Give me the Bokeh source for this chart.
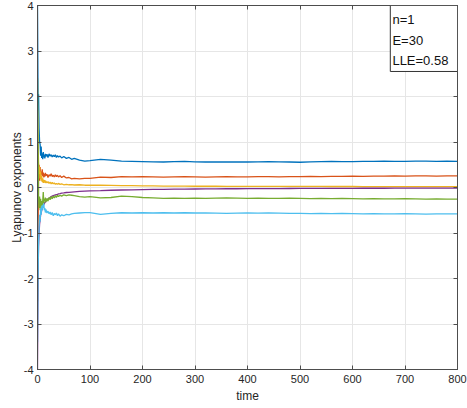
from bokeh.plotting import figure
from bokeh.models import LinearAxis, BoxAnnotation, Label, Range1d, FixedTicker
from bokeh.embed import file_html
from bokeh.resources import INLINE

# time samples
time = [0, 1, 2, 3, 4, 5, 6, 7, 8, 9, 10, 11, 12, 13, 14, 15, 16,
        18, 20, 22, 24, 26, 28, 30, 32, 34, 36, 38, 40,
        43, 46, 50, 55, 60, 65, 70, 80, 90, 100,
        120, 140, 160, 180, 200, 220, 240, 260, 280, 300, 320, 340, 360, 380, 400,
        420, 440, 460, 480, 500, 520, 540, 560, 580, 600, 620, 640, 660, 680, 700,
        720, 740, 760, 780, 800]

lyap_blue = [4.0, 2.0, 2.05, 1.3, 1.0, 0.95, 0.7, 0.9, 0.65, 0.75, 0.62, 0.78, 0.66, 0.72, 0.64, 0.74, 0.68,
             0.73, 0.66, 0.74, 0.69, 0.72, 0.67, 0.71, 0.68, 0.72, 0.66, 0.70, 0.67,
             0.69, 0.65, 0.68, 0.64, 0.66, 0.62, 0.64, 0.60, 0.58, 0.59,
             0.62, 0.60, 0.58, 0.575, 0.57, 0.565, 0.56, 0.57, 0.575, 0.565, 0.56, 0.565, 0.56, 0.565, 0.56,
             0.565, 0.57, 0.565, 0.56, 0.555, 0.565, 0.57, 0.575, 0.57, 0.57, 0.575, 0.575, 0.58, 0.575, 0.575,
             0.58, 0.58, 0.575, 0.58, 0.575]

lyap_orange = [-2.5, -1.0, 0.2, 0.5, 0.15, 0.45, 0.2, 0.35, 0.28, 0.4, 0.25, 0.33, 0.22, 0.3, 0.24, 0.32, 0.26,
               0.29, 0.22, 0.28, 0.25, 0.3, 0.24, 0.27, 0.23, 0.28, 0.24, 0.27, 0.23,
               0.26, 0.22, 0.25, 0.21, 0.22, 0.19, 0.2, 0.19, 0.2, 0.2,
               0.23, 0.22, 0.24, 0.235, 0.24, 0.235, 0.23, 0.235, 0.24, 0.235, 0.23, 0.235, 0.24, 0.235, 0.235,
               0.24, 0.24, 0.235, 0.24, 0.24, 0.245, 0.24, 0.245, 0.245, 0.25, 0.245, 0.25, 0.25, 0.255, 0.25,
               0.255, 0.255, 0.25, 0.255, 0.255]

lyap_yellow = [1.7, 1.0, 0.55, 0.3, 0.45, 0.2, 0.35, 0.15, 0.25, 0.12, 0.2, 0.1, 0.17, 0.11, 0.16, 0.1, 0.14,
               0.1, 0.13, 0.09, 0.12, 0.08, 0.11, 0.08, 0.1, 0.07, 0.09, 0.07, 0.09,
               0.07, 0.08, 0.06, 0.07, 0.06, 0.065, 0.055, 0.06, 0.05, 0.05,
               0.05, 0.045, 0.04, 0.04, 0.035, 0.035, 0.03, 0.03, 0.03, 0.028, 0.028, 0.027, 0.026, 0.026, 0.025,
               0.025, 0.025, 0.024, 0.024, 0.023, 0.023, 0.023, 0.022, 0.022, 0.022, 0.021, 0.021, 0.021, 0.02, 0.02,
               0.02, 0.02, 0.019, 0.019, 0.019]

lyap_purple = [-4.0, -2.0, -1.3, -1.0, -0.8, -0.72, -0.6, -0.57, -0.5, -0.48, -0.42, -0.41, -0.37, -0.36, -0.33, -0.32, -0.3,
               -0.27, -0.25, -0.24, -0.22, -0.2, -0.19, -0.18, -0.17, -0.16, -0.155, -0.15, -0.14,
               -0.135, -0.125, -0.12, -0.11, -0.105, -0.1, -0.095, -0.085, -0.08, -0.075,
               -0.07, -0.06, -0.055, -0.05, -0.045, -0.042, -0.04, -0.037, -0.035, -0.033, -0.031, -0.03, -0.028, -0.027, -0.026,
               -0.025, -0.024, -0.023, -0.022, -0.021, -0.02, -0.02, -0.019, -0.018, -0.018, -0.017, -0.016, -0.016, -0.015, -0.015,
               -0.014, -0.014, -0.013, -0.013, -0.012]

lyap_green = [2.4, 1.0, -0.2, -0.45, -0.2, -0.5, -0.25, -0.4, -0.3, -0.45, -0.28, -0.1, -0.35, -0.25, -0.3, -0.22, -0.32,
              -0.24, -0.3, -0.22, -0.27, -0.2, -0.25, -0.19, -0.23, -0.18, -0.22, -0.17, -0.2,
              -0.17, -0.19, -0.16, -0.18, -0.16, -0.17, -0.18, -0.2, -0.21, -0.2,
              -0.23, -0.22, -0.19, -0.2, -0.22, -0.23, -0.24, -0.235, -0.24, -0.235, -0.24, -0.235, -0.23, -0.235, -0.24,
              -0.235, -0.24, -0.24, -0.235, -0.24, -0.245, -0.24, -0.245, -0.24, -0.245, -0.25, -0.245, -0.25, -0.25, -0.245,
              -0.25, -0.255, -0.25, -0.255, -0.255]

lyap_cyan = [-3.4, -2.0, -1.2, -0.9, -0.6, -0.75, -0.45, -0.6, -0.4, -0.5, -0.38, -0.45, -0.35, -0.5, -0.45, -0.55, -0.48,
             -0.56, -0.52, -0.58, -0.54, -0.6, -0.55, -0.62, -0.57, -0.6, -0.56, -0.62, -0.58,
             -0.63, -0.6, -0.62, -0.59, -0.6, -0.58, -0.57, -0.56, -0.55, -0.55,
             -0.59, -0.57, -0.555, -0.56, -0.555, -0.56, -0.555, -0.56, -0.555, -0.56, -0.56, -0.565, -0.57, -0.565, -0.56,
             -0.565, -0.56, -0.565, -0.57, -0.57, -0.575, -0.57, -0.575, -0.57, -0.575, -0.58, -0.575, -0.58, -0.58, -0.575,
             -0.58, -0.585, -0.58, -0.58, -0.58]

series = [lyap_blue, lyap_orange, lyap_yellow, lyap_purple, lyap_green, lyap_cyan]
colors = ["#0072BD", "#D95319", "#EDB120", "#7E2F8E", "#77AC30", "#4DBEEE"]

x_ticks = [0, 100, 200, 300, 400, 500, 600, 700, 800]
y_ticks = [-4, -3, -2, -1, 0, 1, 2, 3, 4]
y_tick_labels = ["-4", "-3", "-2", "-1", "0", "1", "2", "3", "4"]
info_lines = ["n=1", "E=30", "LLE=0.58"]
info_y = [3.69, 3.23, 2.79]

for s in series:
    assert len(s) == len(time), (len(s), len(time))

FONT = "Liberation Sans"
AX = "#4d4d4d"

p = figure(width=467, height=408, output_backend="svg", toolbar_location=None,
           x_range=Range1d(0, 800), y_range=Range1d(-4, 4),
           min_border_left=37, min_border_right=10, min_border_top=5, min_border_bottom=39)
p.background_fill_color = "white"
p.border_fill_color = "white"
p.outline_line_color = AX

for s, c in zip(series, colors):
    p.line(time, s, line_color=c, line_width=1.3)

p.xaxis.ticker = FixedTicker(ticks=x_ticks)
p.yaxis.ticker = FixedTicker(ticks=y_ticks)
p.yaxis.major_label_overrides = {t: l for t, l in zip(y_ticks, y_tick_labels)}
p.xaxis.axis_label = "time"
p.yaxis.axis_label = "Lyapunov exponents"

for ax in [p.xaxis[0], p.yaxis[0]]:
    ax.axis_line_color = AX
    ax.major_tick_line_color = AX
    ax.minor_tick_line_color = None
    ax.major_tick_in = 4
    ax.major_tick_out = 0
    ax.major_label_text_font = FONT
    ax.major_label_text_font_size = "11px"
    ax.major_label_text_color = "#262626"
    ax.axis_label_text_font = FONT
    ax.axis_label_text_font_size = "12px"
    ax.axis_label_text_font_style = "normal"
    ax.axis_label_text_color = "#262626"
p.xaxis.major_label_standoff = 5
p.xaxis.axis_label_standoff = 3
p.yaxis.major_label_standoff = 4
p.yaxis.axis_label_standoff = -3

for loc, tk in [("above", x_ticks), ("right", y_ticks)]:
    ax2 = LinearAxis(ticker=FixedTicker(ticks=tk), axis_line_color=AX, major_tick_line_color=AX,
                     minor_tick_line_color=None, major_tick_in=4, major_tick_out=0,
                     major_label_text_color=None, major_label_text_alpha=0,
                     major_label_text_font_size="1px", major_label_standoff=0)
    p.add_layout(ax2, loc)

p.xgrid.grid_line_color = "#e6e6e6"
p.ygrid.grid_line_color = "#e6e6e6"

box = BoxAnnotation(left=672, right=800, bottom=2.55, top=4, fill_color="white", fill_alpha=1.0,
                    line_color="#333333", line_width=1, line_alpha=1.0)
p.add_layout(box)
for txt, yy in zip(info_lines, info_y):
    p.add_layout(Label(x=676, y=yy, text=txt, text_baseline="middle", text_align="left",
                       text_font=FONT, text_font_size="13px", text_color="#111111"))

open("out.html", "w").write(file_html(p, INLINE))
